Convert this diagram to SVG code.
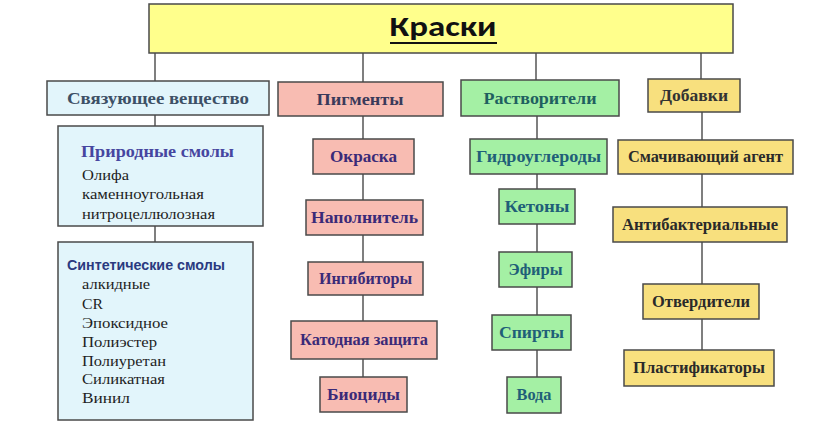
<svg xmlns="http://www.w3.org/2000/svg" width="830" height="425" viewBox="0 0 830 425">
<style>
.box{stroke:#4a4a4a;stroke-width:1.5}
.blue{fill:#e2f5fb}
.pink{fill:#f8bcb2}
.green{fill:#a4f0a4}
.yel{fill:#f8e07e}
.lbl{font-family:"Liberation Serif","DejaVu Serif",serif;font-weight:bold;font-size:16px;text-anchor:middle}
.pg{fill:#3a2a78}
.sv{fill:#1f5f78}
.ad{fill:#2a2a2a}
.item{font-family:"Liberation Serif","DejaVu Serif",serif;font-size:15px;fill:#1e1e1e}
.conn line{stroke:#555;stroke-width:1.5}
</style>
<rect width="830" height="425" fill="#fff"/>
<g class="conn">
<line x1="155" y1="53" x2="155" y2="81"/>
<line x1="363" y1="53" x2="363" y2="82"/>
<line x1="536" y1="53" x2="536" y2="80"/>
<line x1="701" y1="53" x2="701" y2="79"/>
<line x1="155" y1="115" x2="155" y2="126"/>
<line x1="155" y1="226" x2="155" y2="242"/>
<line x1="363" y1="116" x2="363" y2="139"/>
<line x1="363" y1="174" x2="363" y2="200"/>
<line x1="363" y1="235" x2="363" y2="262"/>
<line x1="363" y1="295" x2="363" y2="321"/>
<line x1="363" y1="359" x2="363" y2="377"/>
<line x1="537" y1="116" x2="537" y2="139"/>
<line x1="537" y1="174" x2="537" y2="189"/>
<line x1="537" y1="224" x2="537" y2="252"/>
<line x1="537" y1="287" x2="537" y2="315"/>
<line x1="537" y1="350" x2="537" y2="377"/>
<line x1="702" y1="112" x2="702" y2="140"/>
<line x1="702" y1="174" x2="702" y2="207"/>
<line x1="702" y1="242" x2="702" y2="284"/>
<line x1="702" y1="319" x2="702" y2="350"/>
</g>
<g id="title">
<rect class="box" x="149" y="4" width="584" height="49" fill="#ffff8c"/>
<text x="443" y="36" font-family="Carlito,'Liberation Sans','DejaVu Sans',sans-serif" font-weight="bold" font-size="29" text-anchor="middle" fill="#111" textLength="107" lengthAdjust="spacingAndGlyphs">Краски</text>
<line x1="390" y1="43" x2="497" y2="43" stroke="#111" stroke-width="2"/>
</g>
<g id="binder">
<rect class="box blue" x="47" y="81" width="222" height="34"/>
<text class="lbl" x="158" y="104" fill="#3d5066" textLength="182" lengthAdjust="spacingAndGlyphs">Связующее вещество</text>
</g>
<g id="pigments">
<rect class="box pink" x="278" y="82" width="165" height="34"/>
<text class="lbl" x="360" y="105" fill="#3a3a5a" textLength="87" lengthAdjust="spacingAndGlyphs">Пигменты</text>
</g>
<g id="solvents">
<rect class="box green" x="461" y="80" width="158" height="36"/>
<text class="lbl" x="540" y="104" fill="#1f6060" textLength="113" lengthAdjust="spacingAndGlyphs">Растворители</text>
</g>
<g id="additives">
<rect class="box yel" x="648" y="79" width="92" height="33"/>
<text class="lbl" x="694" y="101" fill="#333" textLength="68" lengthAdjust="spacingAndGlyphs">Добавки</text>
</g>
<g id="natural">
<rect class="box blue" x="58" y="126" width="205" height="100"/>
<text x="81" y="157" font-family="'Liberation Serif','DejaVu Serif',serif" font-weight="bold" font-size="16" fill="#4646a0" textLength="153" lengthAdjust="spacingAndGlyphs">Природные смолы</text>
<text class="item" x="82" y="180" textLength="47" lengthAdjust="spacingAndGlyphs">Олифа</text>
<text class="item" x="82" y="199" textLength="122" lengthAdjust="spacingAndGlyphs">каменноугольная</text>
<text class="item" x="82" y="219" textLength="133" lengthAdjust="spacingAndGlyphs">нитроцеллюлозная</text>
</g>
<g id="synthetic">
<rect class="box blue" x="58" y="242" width="195" height="178"/>
<text x="67" y="270" font-family="'Liberation Sans','DejaVu Sans',sans-serif" font-weight="bold" font-size="14" fill="#2a3a80" textLength="158" lengthAdjust="spacingAndGlyphs">Синтетические смолы</text>
<text class="item" x="82" y="289" textLength="68" lengthAdjust="spacingAndGlyphs">алкидные</text>
<text class="item" x="82" y="309" textLength="21" lengthAdjust="spacingAndGlyphs">CR</text>
<text class="item" x="82" y="328" textLength="86" lengthAdjust="spacingAndGlyphs">Эпоксидное</text>
<text class="item" x="82" y="347" textLength="75" lengthAdjust="spacingAndGlyphs">Полиэстер</text>
<text class="item" x="82" y="366" textLength="84" lengthAdjust="spacingAndGlyphs">Полиуретан</text>
<text class="item" x="82" y="384" textLength="83" lengthAdjust="spacingAndGlyphs">Силикатная</text>
<text class="item" x="82" y="403" textLength="48" lengthAdjust="spacingAndGlyphs">Винил</text>
</g>
<g id="okraska">
<rect class="box pink" x="313" y="139" width="101" height="35"/>
<text class="lbl pg" x="363.5" y="162" textLength="67" lengthAdjust="spacingAndGlyphs">Окраска</text>
</g>
<g id="napolnitel">
<rect class="box pink" x="306" y="200" width="117" height="35"/>
<text class="lbl pg" x="364.5" y="223" textLength="107" lengthAdjust="spacingAndGlyphs">Наполнитель</text>
</g>
<g id="ingibitory">
<rect class="box pink" x="308" y="262" width="115" height="33"/>
<text class="lbl pg" x="365.5" y="284" textLength="93" lengthAdjust="spacingAndGlyphs">Ингибиторы</text>
</g>
<g id="katod">
<rect class="box pink" x="291" y="321" width="146" height="38"/>
<text class="lbl pg" x="364" y="345" textLength="128" lengthAdjust="spacingAndGlyphs">Катодная защита</text>
</g>
<g id="biocidy">
<rect class="box pink" x="320" y="377" width="87" height="35"/>
<text class="lbl pg" x="363.5" y="400" textLength="73" lengthAdjust="spacingAndGlyphs">Биоциды</text>
</g>
<g id="gidro">
<rect class="box green" x="470" y="139" width="137" height="35"/>
<text class="lbl sv" x="538.5" y="162" textLength="125" lengthAdjust="spacingAndGlyphs">Гидроуглероды</text>
</g>
<g id="ketony">
<rect class="box green" x="499" y="189" width="76" height="35"/>
<text class="lbl sv" x="537" y="212" textLength="65" lengthAdjust="spacingAndGlyphs">Кетоны</text>
</g>
<g id="efiry">
<rect class="box green" x="499" y="252" width="73" height="35"/>
<text class="lbl sv" x="535.5" y="275" textLength="54" lengthAdjust="spacingAndGlyphs">Эфиры</text>
</g>
<g id="spirty">
<rect class="box green" x="492" y="315" width="79" height="35"/>
<text class="lbl sv" x="531.5" y="338" textLength="65" lengthAdjust="spacingAndGlyphs">Спирты</text>
</g>
<g id="voda">
<rect class="box green" x="507" y="377" width="54" height="36"/>
<text class="lbl sv" x="534" y="400" textLength="35" lengthAdjust="spacingAndGlyphs">Вода</text>
</g>
<g id="smach">
<rect class="box yel" x="618" y="140" width="175" height="34"/>
<text class="lbl ad" x="705.5" y="162" textLength="155" lengthAdjust="spacingAndGlyphs">Смачивающий агент</text>
</g>
<g id="antibak">
<rect class="box yel" x="613" y="207" width="174" height="35"/>
<text class="lbl ad" x="700" y="230" textLength="156" lengthAdjust="spacingAndGlyphs">Антибактериальные</text>
</g>
<g id="otverd">
<rect class="box yel" x="643" y="284" width="116" height="35"/>
<text class="lbl ad" x="701" y="307" textLength="98" lengthAdjust="spacingAndGlyphs">Отвердители</text>
</g>
<g id="plast">
<rect class="box yel" x="624" y="350" width="150" height="36"/>
<text class="lbl ad" x="699" y="373" textLength="132" lengthAdjust="spacingAndGlyphs">Пластификаторы</text>
</g>
</svg>
